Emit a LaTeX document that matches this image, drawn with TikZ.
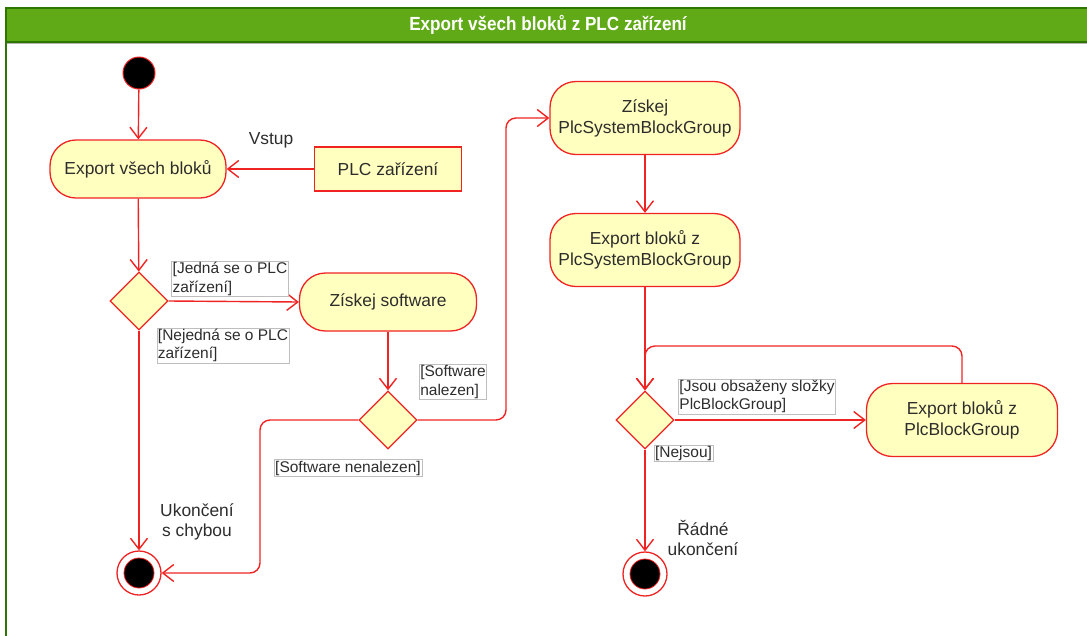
\documentclass[tikz,border=0pt]{standalone}
\usepackage{fontspec}
\setmainfont{Liberation Sans}
\usepackage{tikz}
\usetikzlibrary{arrows.meta,shapes.geometric,calc}
\definecolor{umlRed}{RGB}{240,35,35}
\definecolor{actFill}{RGB}{255,255,192}
\definecolor{headGreen}{RGB}{96,169,23}
\definecolor{headEdge}{RGB}{45,118,0}
\definecolor{inkText}{RGB}{45,45,45}
\definecolor{guardEdge}{RGB}{190,190,190}

\begin{document}
\begin{tikzpicture}[x=1pt,y=-1pt,
  act/.style={draw=umlRed,fill=actFill,line width=1.3pt,rounded corners=26pt,
    minimum height=58pt,align=center,text=inkText,font=\fontsize{17.4}{21}\selectfont},
  objbox/.style={draw=umlRed,fill=actFill,line width=1.3pt,minimum height=44pt,
    text=inkText,font=\fontsize{17.4}{21}\selectfont},
  decision/.style={diamond,aspect=1,draw=umlRed,fill=actFill,line width=1.3pt,
    minimum width=58pt,minimum height=58pt,inner sep=0pt},
  initial/.style={circle,draw=umlRed,fill=black,line width=1pt,minimum size=32pt,inner sep=0pt},
  final/.style={circle,draw=umlRed,fill=white,line width=1.3pt,minimum size=44pt,inner sep=0pt,
    path picture={\fill[black,draw=umlRed,line width=0.8pt] (path picture bounding box.center) circle (15pt);}},
  guard/.style={draw=guardEdge,fill=white,line width=0.6pt,inner sep=1pt,align=left,
    text=inkText,font=\fontsize{15.5}{18.5}\selectfont},
  note/.style={align=center,text=inkText,font=\fontsize{17.4}{20}\selectfont},
  flow/.style={draw=umlRed,line width=1.4pt,rounded corners=10pt,
    -{Straight Barb[length=11pt,width=17pt]}}]
  \useasboundingbox (0,0) rectangle (1087,635);
  \fill[headGreen,draw=headEdge,line width=1.5pt] (6,8) rectangle (1090,42);
  \draw[gray!60,line width=1pt] (6,43.5) -- (1090,43.5);
  \draw[headEdge,line width=1.8pt] (6,42) -- (6,640);
  \node[text=white,font=\bfseries\fontsize{19}{22}\selectfont] (title) at (548,25)
    {\scalebox{0.9}[1]{Export všech bloků z PLC zařízení}};

  \node[initial] (start) at (139,73) {};
  \node[act,minimum width=176pt] (exp) at (138,169) {Export všech bloků};
  \node[objbox,minimum width=147pt] (plc) at (388,169) {PLC zařízení};
  \node[note] (vstup) at (271,140) {Vstup};
  \node[decision] (dec1) at (139,301) {};
  \node[act,minimum width=177pt] (sw) at (388,302) {Získej software};
  \node[decision] (dec2) at (388,420) {};
  \node[final] (end1) at (139,573) {};
  \node[act,minimum width=190pt,minimum height=73pt] (gsys) at (645,118) {Získej\\PlcSystemBlockGroup};
  \node[act,minimum width=190pt,minimum height=73pt] (esys) at (645,250) {Export bloků z\\PlcSystemBlockGroup};
  \node[decision] (dec3) at (645,420) {};
  \node[act,minimum width=191pt,minimum height=73pt] (epbg) at (962,420) {Export bloků z\\PlcBlockGroup};
  \node[final] (end2) at (645,574) {};
  \coordinate (bendA) at (260,420);
  \coordinate (bendB) at (506,420);
  \coordinate (loopTop) at (962,346);

  \draw[flow] (start) -- (exp);
  \draw[flow] (plc) -- (exp);
  \draw[flow] (exp) -- (dec1);
  \draw[flow] (dec1.east) -- (sw.west);
  \draw[flow] (dec1) -- (end1);
  \draw[flow] (sw) -- (dec2);
  \draw[flow] (dec2.west) -- (bendA) |- (end1.east);
  \draw[flow] (dec2.east) -- (bendB) |- (gsys.west);
  \draw[flow] (gsys) -- (esys);
  \draw[flow] (esys) -- (dec3);
  \draw[flow] (epbg.north) -- (loopTop) -| (dec3.north);
  \draw[flow] (dec3.east) -- (epbg.west);
  \draw[flow] (dec3) -- (end2);

  \node[guard] (g1) at (230,279) {[Jedná se o PLC\\zařízení]};
  \node[guard] (g2) at (223,345.5) {[Nejedná se o PLC\\zařízení]};
  \node[guard] (g3) at (453,382) {[Software\\nalezen]};
  \node[guard] (g4) at (348,468) {[Software nenalezen]};
  \node[guard] (g5) at (757,396.5) {[Jsou obsaženy složky\\PlcBlockGroup]};
  \node[guard] (g6) at (683.5,453.5) {[Nejsou]};
  \node[note] (err) at (197,522) {Ukončení\\s chybou};
  \node[note] (ok) at (703,538) {Řádné\\ukončení};
\end{tikzpicture}
\end{document}
